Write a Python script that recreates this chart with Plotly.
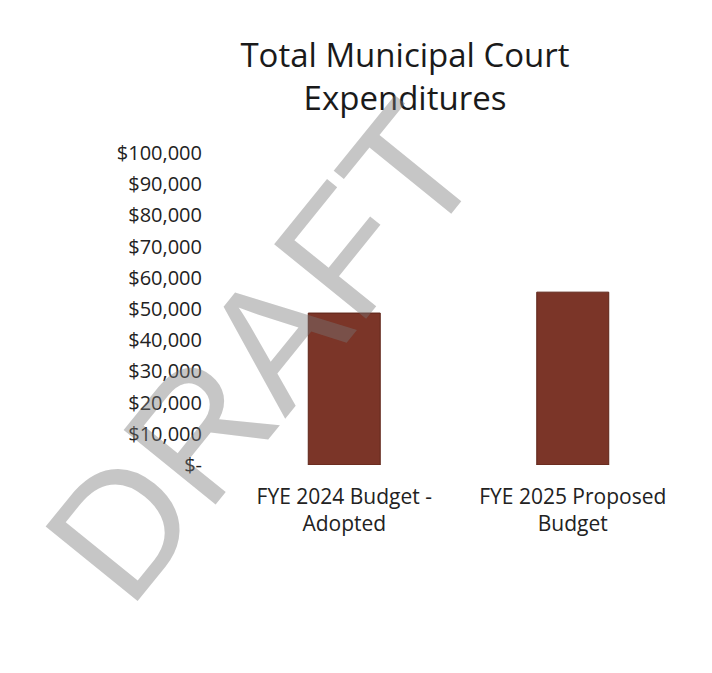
import plotly.graph_objects as go

categories = ["FYE 2024 Budget -<br>Adopted", "FYE 2025 Proposed<br>Budget"]
values = [48700, 55400]
tick_vals = [0, 10000, 20000, 30000, 40000, 50000, 60000, 70000, 80000, 90000, 100000]
tick_text = ["$-", "$10,000", "$20,000", "$30,000", "$40,000", "$50,000",
             "$60,000", "$70,000", "$80,000", "$90,000", "$100,000"]
title_text = "Total Municipal Court<br>Expenditures"
watermark = "DRAFT"

FONT = "Open Sans"
OFF = 8  # default page body margin

W, H = 712 - OFF, 673 - OFF

fig = go.Figure(go.Bar(
    x=categories, y=values,
    marker=dict(color="#7B3528", line=dict(color="#5e2418", width=1)),
    width=0.315,
))

fig.update_layout(
    width=W, height=H,
    paper_bgcolor="white", plot_bgcolor="white",
    margin=dict(l=230 - OFF, r=25, t=153 - OFF, b=208),
    showlegend=False,
    title=dict(text=title_text, x=(405 - OFF) / W, xanchor="center",
               y=1 - (67 - OFF) / H, yanchor="middle",
               font=dict(family=FONT, size=33, color="#1a1a1a")),
    font=dict(family=FONT, color="#222"),
)
fig.update_xaxes(showgrid=False, showline=False, zeroline=False, ticks="",
                 tickfont=dict(family=FONT, size=21, color="#222"), ticklabelstandoff=17)
fig.update_yaxes(range=[0, 100000], tickvals=tick_vals, ticktext=tick_text,
                 showgrid=False, zeroline=False, showline=False, ticks="",
                 tickfont=dict(family=FONT, size=20, color="#222"), ticklabelstandoff=27)

fig.add_annotation(
    text=watermark, xref="paper", yref="paper",
    x=(262 - 230) / 457, y=(465 - 352) / 312, xanchor="center", yanchor="middle",
    showarrow=False, textangle=-51,
    font=dict(family="Liberation Sans", size=172, color="rgba(120,120,120,0.42)"),
)

fig.write_html("out.html")
